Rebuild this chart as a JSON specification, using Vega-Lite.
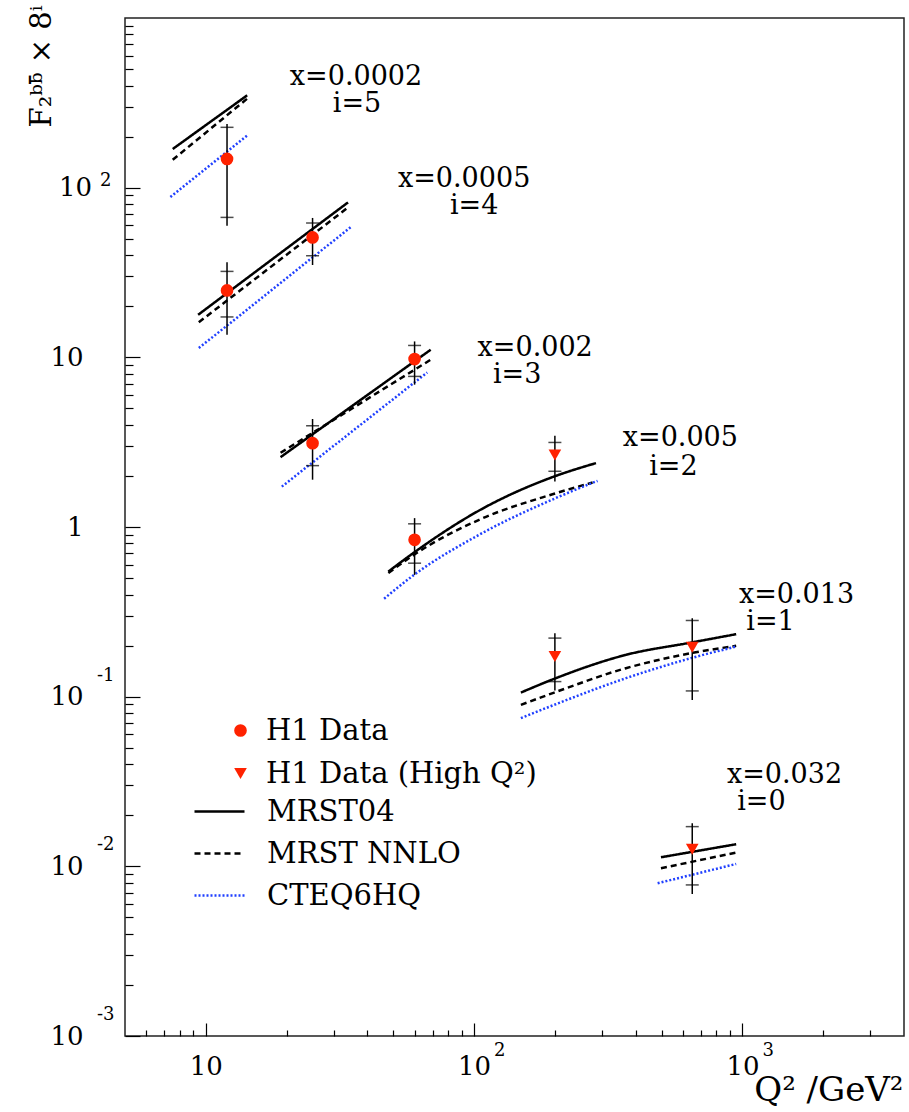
{
  "$schema": "https://vega.github.io/schema/vega-lite/v6.json",
  "width": 779,
  "height": 1018,
  "autosize": "none",
  "padding": {"left": 125, "top": 18, "right": 5, "bottom": 76},
  "background": "white",
  "config": {
    "view": {"stroke": "#222222", "strokeWidth": 1.5},
    "font": "DejaVu Serif"
  },
  "datasets": {
    "curves": [
      {"bin": "i=5", "model": "MRST04", "q2": 7.53, "f": 169},
      {"bin": "i=5", "model": "MRST04", "q2": 14.26, "f": 350},
      {"bin": "i=5", "model": "MRST NNLO", "q2": 7.53, "f": 146},
      {"bin": "i=5", "model": "MRST NNLO", "q2": 14.38, "f": 338},
      {"bin": "i=5", "model": "CTEQ6HQ", "q2": 7.38, "f": 88.1},
      {"bin": "i=5", "model": "CTEQ6HQ", "q2": 14.38, "f": 205},
      {"bin": "i=4", "model": "MRST04", "q2": 9.36, "f": 17.8},
      {"bin": "i=4", "model": "MRST04", "q2": 33.9, "f": 81.9},
      {"bin": "i=4", "model": "MRST NNLO", "q2": 9.42, "f": 16.1},
      {"bin": "i=4", "model": "MRST NNLO", "q2": 33.7, "f": 75.9},
      {"bin": "i=4", "model": "CTEQ6HQ", "q2": 9.42, "f": 11.34},
      {"bin": "i=4", "model": "CTEQ6HQ", "q2": 34.7, "f": 58.6},
      {"bin": "i=3", "model": "MRST04", "q2": 19.0, "f": 2.58},
      {"bin": "i=3", "model": "MRST04", "q2": 68.9, "f": 11.09},
      {"bin": "i=3", "model": "MRST NNLO", "q2": 19.0, "f": 2.74},
      {"bin": "i=3", "model": "MRST NNLO", "q2": 68.9, "f": 9.68},
      {"bin": "i=3", "model": "CTEQ6HQ", "q2": 19.2, "f": 1.73},
      {"bin": "i=3", "model": "CTEQ6HQ", "q2": 66.9, "f": 8.15},
      {"bin": "i=2", "model": "MRST04", "q2": 47.9, "f": 0.546},
      {"bin": "i=2", "model": "MRST04", "q2": 59.7, "f": 0.707},
      {"bin": "i=2", "model": "MRST04", "q2": 104.4, "f": 1.251},
      {"bin": "i=2", "model": "MRST04", "q2": 198.8, "f": 1.985},
      {"bin": "i=2", "model": "MRST04", "q2": 284.6, "f": 2.38},
      {"bin": "i=2", "model": "MRST NNLO", "q2": 47.9, "f": 0.535},
      {"bin": "i=2", "model": "MRST NNLO", "q2": 59.7, "f": 0.686},
      {"bin": "i=2", "model": "MRST NNLO", "q2": 104.4, "f": 1.103},
      {"bin": "i=2", "model": "MRST NNLO", "q2": 198.8, "f": 1.57},
      {"bin": "i=2", "model": "MRST NNLO", "q2": 276.4, "f": 1.829},
      {"bin": "i=2", "model": "CTEQ6HQ", "q2": 46.2, "f": 0.378},
      {"bin": "i=2", "model": "CTEQ6HQ", "q2": 59.7, "f": 0.522},
      {"bin": "i=2", "model": "CTEQ6HQ", "q2": 104.4, "f": 0.9},
      {"bin": "i=2", "model": "CTEQ6HQ", "q2": 198.8, "f": 1.467},
      {"bin": "i=2", "model": "CTEQ6HQ", "q2": 288.4, "f": 1.87},
      {"bin": "i=1", "model": "MRST04", "q2": 149.4, "f": 0.1057},
      {"bin": "i=1", "model": "MRST04", "q2": 198.8, "f": 0.1274},
      {"bin": "i=1", "model": "MRST04", "q2": 368, "f": 0.1764},
      {"bin": "i=1", "model": "MRST04", "q2": 643.6, "f": 0.2084},
      {"bin": "i=1", "model": "MRST04", "q2": 947.7, "f": 0.2335},
      {"bin": "i=1", "model": "MRST NNLO", "q2": 149.4, "f": 0.0895},
      {"bin": "i=1", "model": "MRST NNLO", "q2": 198.8, "f": 0.1057},
      {"bin": "i=1", "model": "MRST NNLO", "q2": 368, "f": 0.1472},
      {"bin": "i=1", "model": "MRST NNLO", "q2": 643.6, "f": 0.1805},
      {"bin": "i=1", "model": "MRST NNLO", "q2": 947.7, "f": 0.1993},
      {"bin": "i=1", "model": "CTEQ6HQ", "q2": 149.4, "f": 0.0747},
      {"bin": "i=1", "model": "CTEQ6HQ", "q2": 198.8, "f": 0.0895},
      {"bin": "i=1", "model": "CTEQ6HQ", "q2": 368, "f": 0.1285},
      {"bin": "i=1", "model": "CTEQ6HQ", "q2": 643.6, "f": 0.1687},
      {"bin": "i=1", "model": "CTEQ6HQ", "q2": 947.7, "f": 0.1974},
      {"bin": "i=0", "model": "MRST04", "q2": 497, "f": 0.01131},
      {"bin": "i=0", "model": "MRST04", "q2": 947.7, "f": 0.0135},
      {"bin": "i=0", "model": "MRST NNLO", "q2": 497, "f": 0.00975},
      {"bin": "i=0", "model": "MRST NNLO", "q2": 947.7, "f": 0.01205},
      {"bin": "i=0", "model": "CTEQ6HQ", "q2": 483, "f": 0.00795},
      {"bin": "i=0", "model": "CTEQ6HQ", "q2": 947.7, "f": 0.01033}
    ],
    "points": [
      {"bin": "i=5", "set": "H1 Data", "q2": 12, "f": 147.7, "statLo": 66.8, "statHi": 226.8, "totLo": 59.7, "totHi": 237.4},
      {"bin": "i=4", "set": "H1 Data", "q2": 12, "f": 24.8, "statLo": 17.3, "statHi": 32.1, "totLo": 13.6, "totHi": 36.3},
      {"bin": "i=4", "set": "H1 Data", "q2": 25, "f": 50.9, "statLo": 39.7, "statHi": 61.9, "totLo": 35.0, "totHi": 66.3},
      {"bin": "i=3", "set": "H1 Data", "q2": 25, "f": 3.12, "statLo": 2.30, "statHi": 3.95, "totLo": 1.90, "totHi": 4.33},
      {"bin": "i=3", "set": "H1 Data", "q2": 60, "f": 9.77, "statLo": 7.72, "statHi": 11.75, "totLo": 6.90, "totHi": 12.41},
      {"bin": "i=2", "set": "H1 Data", "q2": 60, "f": 0.84, "statLo": 0.612, "statHi": 1.044, "totLo": 0.522, "totHi": 1.128},
      {"bin": "i=2", "set": "H1 Data (High Q²)", "q2": 200, "f": 2.66, "statLo": 2.13, "statHi": 3.15, "totLo": 1.855, "totHi": 3.45},
      {"bin": "i=1", "set": "H1 Data (High Q²)", "q2": 200, "f": 0.1726, "statLo": 0.1227, "statHi": 0.2214, "totLo": 0.1086, "totHi": 0.2367},
      {"bin": "i=1", "set": "H1 Data (High Q²)", "q2": 650, "f": 0.1957, "statLo": 0.1081, "statHi": 0.2812, "totLo": 0.0957, "totHi": 0.2903},
      {"bin": "i=0", "set": "H1 Data (High Q²)", "q2": 650, "f": 0.01262, "statLo": 0.00777, "statHi": 0.01714, "totLo": 0.00688, "totHi": 0.01796}
    ],
    "labels": [
      {"q2": 36.3, "f": 451, "text": "x=0.0002"},
      {"q2": 36.6, "f": 313, "text": "i=5"},
      {"q2": 91.8, "f": 113, "text": "x=0.0005"},
      {"q2": 100, "f": 78.3, "text": "i=4"},
      {"q2": 168.9, "f": 11.31, "text": "x=0.002"},
      {"q2": 144.7, "f": 7.85, "text": "i=3"},
      {"q2": 587, "f": 3.36, "text": "x=0.005"},
      {"q2": 552.7, "f": 2.26, "text": "i=2"},
      {"q2": 1590, "f": 0.398, "text": "x=0.013"},
      {"q2": 1272, "f": 0.276, "text": "i=1"},
      {"q2": 1435, "f": 0.0346, "text": "x=0.032"},
      {"q2": 1177, "f": 0.024, "text": "i=0"}
    ],
    "yexpPos": [{"v": 100, "base": "10", "e": "2"}],
    "yexpNeg": [{"v": 0.1, "e": "-1"}, {"v": 0.01, "e": "-2"}, {"v": 0.001, "e": "-3"}],
    "xexp": [{"v": 100, "e": "2"}, {"v": 1000, "e": "3"}]
  },
  "layer": [
    {
      "data": {"name": "curves"},
      "mark": {"type": "line", "strokeWidth": 2.5, "interpolate": "monotone"},
      "encoding": {
        "x": {
          "field": "q2", "type": "quantitative",
          "scale": {"type": "log", "domain": [5, 4000], "nice": false},
          "axis": {
            "values": [6, 7, 8, 9, 10, 20, 30, 40, 50, 60, 70, 80, 90, 100, 200, 300, 400, 500, 600, 700, 800, 900, 1000, 2000, 3000],
            "labelExpr": "(datum.value == 10 || datum.value == 100 || datum.value == 1000) ? '10' : ''",
            "tickSize": {"condition": {"test": "datum.value == 10 || datum.value == 100 || datum.value == 1000", "value": -13}, "value": -6},
            "tickColor": "black", "tickWidth": 1.2,
            "domain": false, "grid": false,
            "labelFont": "DejaVu Serif", "labelFontSize": 26, "labelColor": "black",
            "labelBaseline": "top", "labelPadding": 30,
            "labelOverlap": false, "labelFlush": false, "labelBound": false,
            "title": "Q² /GeV²", "titleFont": "DejaVu Serif", "titleFontSize": 34, "titleFontWeight": "normal",
            "titleColor": "black", "titleAnchor": "end", "titleAlign": "right", "titleBaseline": "alphabetic",
            "titleX": 778, "titleY": 64
          }
        },
        "y": {
          "field": "f", "type": "quantitative",
          "scale": {"type": "log", "domain": [0.001, 1000], "nice": false},
          "axis": {
            "values": [0.001, 0.002, 0.003, 0.004, 0.005, 0.006, 0.007, 0.008, 0.009, 0.01, 0.02, 0.03, 0.04, 0.05, 0.06, 0.07, 0.08, 0.09, 0.1, 0.2, 0.3, 0.4, 0.5, 0.6, 0.7, 0.8, 0.9, 1, 2, 3, 4, 5, 6, 7, 8, 9, 10, 20, 30, 40, 50, 60, 70, 80, 90, 100, 200, 300, 400, 500, 600, 700, 800, 900],
            "labelExpr": "datum.value == 1 ? '1' : (indexof([0.001, 0.01, 0.1, 10], datum.value) >= 0 ? '10' : '')",
            "tickSize": {"condition": {"test": "indexof([0.001, 0.01, 0.1, 1, 10, 100], datum.value) >= 0", "value": -15}, "value": -8},
            "labelPadding": 57,
            "tickColor": "black", "tickWidth": 1.2,
            "domain": false, "grid": false,
            "labelFont": "DejaVu Serif", "labelFontSize": 26, "labelColor": "black",
            "labelBaseline": "middle", "labelAlign": "right",
            "labelOverlap": false, "labelFlush": false, "labelBound": false,
            "title": "F₂ᵇᵇ̄ × 8ⁱ", "titleFont": "DejaVu Serif", "titleFontSize": 29, "titleFontWeight": "normal",
            "titleColor": "black", "titleAngle": 270, "titleAnchor": "end", "titleAlign": "right", "titleBaseline": "alphabetic",
            "titleX": -75, "titleY": -13
          }
        },
        "detail": {"field": "bin"},
        "color": {
          "field": "model", "type": "nominal",
          "scale": {"domain": ["MRST04", "MRST NNLO", "CTEQ6HQ"], "range": ["black", "black", "#2040ff"]},
          "legend": {"title": null, "orient": "none", "legendX": 68, "legendY": 767, "padding": 0,
                     "labelFont": "DejaVu Serif", "labelFontSize": 29, "labelColor": "black", "labelOffset": 21, "labelLimit": 0,
                     "rowPadding": -3.5, "symbolSize": 2500, "symbolStrokeWidth": 2.5, "symbolType": "stroke"}
        },
        "strokeDash": {
          "field": "model", "type": "nominal",
          "scale": {"domain": ["MRST04", "MRST NNLO", "CTEQ6HQ"], "range": [[1, 0], [6, 4], [2, 2]]},
          "legend": {"title": null, "orient": "none", "legendX": 68, "legendY": 767, "padding": 0,
                     "labelFont": "DejaVu Serif", "labelFontSize": 29, "labelColor": "black", "labelOffset": 21, "labelLimit": 0,
                     "rowPadding": -3.5, "symbolSize": 2500, "symbolStrokeWidth": 2.5, "symbolType": "stroke"}
        }
      }
    },
    {
      "data": {"name": "points"},
      "mark": {"type": "rule", "color": "black", "strokeWidth": 1.5},
      "encoding": {
        "x": {"field": "q2", "type": "quantitative"},
        "y": {"field": "totLo", "type": "quantitative"},
        "y2": {"field": "totHi"}
      }
    },
    {
      "data": {"name": "points"},
      "transform": [{"fold": ["statLo", "statHi"], "as": ["end", "val"]}],
      "mark": {"type": "tick", "orient": "horizontal", "color": "black", "thickness": 1.5, "size": 13},
      "encoding": {
        "x": {"field": "q2", "type": "quantitative"},
        "y": {"field": "val", "type": "quantitative"}
      }
    },
    {
      "data": {"name": "points"},
      "mark": {"type": "point", "filled": true, "color": "#ff2200", "opacity": 1, "size": 160},
      "encoding": {
        "x": {"field": "q2", "type": "quantitative"},
        "y": {"field": "f", "type": "quantitative"},
        "shape": {
          "field": "set", "type": "nominal",
          "scale": {"domain": ["H1 Data", "H1 Data (High Q²)"], "range": ["circle", "triangle-down"]},
          "legend": {"title": null, "orient": "none", "legendX": 101, "legendY": 698, "padding": 0,
                     "labelFont": "DejaVu Serif", "labelFontSize": 29, "labelColor": "black", "labelOffset": 11, "labelLimit": 0,
                     "rowPadding": 13, "symbolSize": 160, "symbolFillColor": "#ff2200", "symbolStrokeWidth": 0}
        }
      }
    },
    {
      "data": {"name": "labels"},
      "mark": {"type": "text", "font": "DejaVu Serif", "fontSize": 27, "align": "center", "baseline": "middle", "color": "black"},
      "encoding": {
        "x": {"field": "q2", "type": "quantitative"},
        "y": {"field": "f", "type": "quantitative"},
        "text": {"field": "text"}
      }
    },
    {
      "data": {"name": "yexpPos"},
      "mark": {"type": "text", "font": "DejaVu Serif", "fontSize": 26, "align": "right", "baseline": "middle", "color": "black", "dx": -33},
      "encoding": {
        "x": {"datum": 5, "type": "quantitative"},
        "y": {"field": "v", "type": "quantitative"},
        "text": {"field": "base"}
      }
    },
    {
      "data": {"name": "yexpPos"},
      "mark": {"type": "text", "font": "DejaVu Serif", "fontSize": 18, "align": "left", "baseline": "middle", "color": "black", "dx": -25, "dy": -7},
      "encoding": {
        "x": {"datum": 5, "type": "quantitative"},
        "y": {"field": "v", "type": "quantitative"},
        "text": {"field": "e"}
      }
    },
    {
      "data": {"name": "yexpNeg"},
      "mark": {"type": "text", "font": "DejaVu Serif", "fontSize": 18, "align": "left", "baseline": "middle", "color": "black", "dx": -28, "dy": -21},
      "encoding": {
        "x": {"datum": 5, "type": "quantitative"},
        "y": {"field": "v", "type": "quantitative"},
        "text": {"field": "e"}
      }
    },
    {
      "data": {"name": "xexp"},
      "mark": {"type": "text", "font": "DejaVu Serif", "fontSize": 18, "align": "left", "baseline": "middle", "color": "black", "dx": 20, "dy": 15},
      "encoding": {
        "x": {"field": "v", "type": "quantitative"},
        "y": {"datum": 0.001, "type": "quantitative"},
        "text": {"field": "e"}
      }
    }
  ]
}
